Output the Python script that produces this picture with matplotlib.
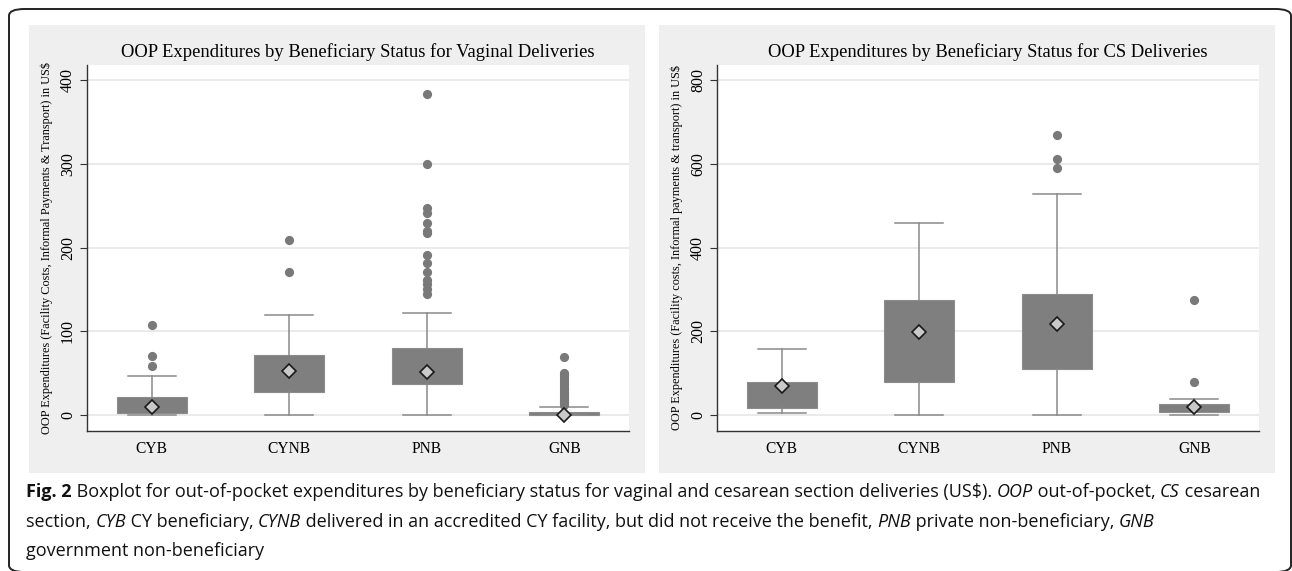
import matplotlib
matplotlib.use("Agg")
import matplotlib.pyplot as plt
from matplotlib import font_manager
from matplotlib.patches import Rectangle, FancyBboxPatch

# categories and box statistics (US$)
groups = ['CYB', 'CYNB', 'PNB', 'GNB']

vag_q1 = [2, 27, 37, 0]
vag_q3 = [21, 72, 80, 4]
vag_lo = [0, 0, 0, 0]
vag_hi = [47, 120, 122, 10]
vag_mean = [10, 53, 52, 0.5]
vag_out = [
    [59, 70, 108],
    [171, 209],
    [145, 151, 156, 161, 171, 181, 191, 217, 220, 229, 241, 247, 300, 383],
    [12, 14, 16, 18, 20, 22, 25, 28, 31, 34, 37, 40, 43, 46, 48, 50, 69],
]

cs_q1 = [18, 80, 110, 7]
cs_q3 = [80, 275, 289, 27]
cs_lo = [4, 0, 0, 0]
cs_hi = [159, 458, 528, 39]
cs_mean = [69, 199, 218, 20]
cs_out = [
    [],
    [],
    [591, 611, 669],
    [79, 276],
]

W, H = 1292, 571
fig = plt.figure(figsize=(W / 100, H / 100), dpi=100)
fig.patch.set_facecolor('white')

serif = 'Liberation Serif'
have = {f.name for f in font_manager.fontManager.ttflist}
cap_font = 'Liberation Sans'
for nm in ['Liberation Sans Narrow', 'Open Sans', 'Liberation Sans']:
    if nm in have:
        cap_font = nm
        break


def fx(px):
    return px / W


def fy(py):
    return 1 - py / H


# outer rounded frame
fig.patches.append(FancyBboxPatch((fx(9), fy(572)), fx(1282), (563) / H,
                                  boxstyle='round,pad=0,rounding_size=0.012',
                                  transform=fig.transFigure, facecolor='none',
                                  edgecolor='#222222', linewidth=1.4))

# gray panels (behind the axes)
for x0, x1 in [(29, 645), (659, 1275)]:
    fig.patches.append(Rectangle((fx(x0), fy(473)), fx(x1 - x0), (473 - 25) / H,
                                 transform=fig.transFigure, facecolor='#efefef',
                                 edgecolor='none', zorder=-1))

panels = [
    dict(left=87, right=629, q1=vag_q1, q3=vag_q3, lo=vag_lo, hi=vag_hi,
         mean=vag_mean, out=vag_out, ylim=(-19, 418), ticks=[0, 100, 200, 300, 400],
         title='OOP Expenditures by Beneficiary Status for Vaginal Deliveries',
         ylabel='OOP Expenditures (Facility Costs, Informal Payments & Transport) in US$'),
    dict(left=717, right=1259, q1=cs_q1, q3=cs_q3, lo=cs_lo, hi=cs_hi,
         mean=cs_mean, out=cs_out, ylim=(-38, 836), ticks=[0, 200, 400, 600, 800],
         title='OOP Expenditures by Beneficiary Status for CS Deliveries',
         ylabel='OOP Expenditures (Facility costs, Informal payments & transport) in US$'),
]

box_col = '#7f7f80'
line_col = '#8a8a8a'

for p in panels:
    ax = fig.add_axes([fx(p['left']), fy(431), fx(p['right'] - p['left']), (431 - 65) / H])
    ax.set_facecolor('white')
    stats = []
    for i, g in enumerate(groups):
        stats.append(dict(label=g, q1=p['q1'][i], q3=p['q3'][i], med=p['mean'][i],
                          whislo=p['lo'][i], whishi=p['hi'][i], mean=p['mean'][i],
                          fliers=p['out'][i]))
    ax.bxp(stats, positions=[1, 2, 3, 4], widths=0.51, patch_artist=True,
           showmeans=True, capwidths=0.35,
           boxprops=dict(facecolor=box_col, edgecolor='#8c8c8c', linewidth=0.8),
           whiskerprops=dict(color=line_col, linewidth=1.1),
           capprops=dict(color=line_col, linewidth=1.1),
           medianprops=dict(linewidth=0),
           flierprops=dict(marker='o', markersize=5.6, markerfacecolor='#797979',
                           markeredgecolor='#797979'),
           meanprops=dict(marker='D', markersize=7, markerfacecolor='#c9c9c9',
                          markeredgecolor='#1a1a1a', markeredgewidth=1.2))
    ax.set_xlim(0.53, 4.47)
    ax.set_ylim(*p['ylim'])
    ax.set_yticks(p['ticks'])
    ax.set_yticklabels([str(t) for t in p['ticks']], rotation=90, va='center',
                       fontfamily=serif, fontsize=11.5)
    ax.set_xticks([1, 2, 3, 4])
    ax.set_xticklabels(groups, fontfamily=serif, fontsize=11.2)
    ax.tick_params(axis='x', length=0, pad=7)
    ax.tick_params(axis='y', length=5, width=0.8, color='#333333', pad=3)
    ax.grid(axis='y', color='#e6e6e6', linewidth=1.2)
    ax.set_axisbelow(True)
    for s in ['top', 'right']:
        ax.spines[s].set_visible(False)
    for s in ['left', 'bottom']:
        ax.spines[s].set_color('#333333')
        ax.spines[s].set_linewidth(1.0)
    ax.set_ylabel(p['ylabel'], fontfamily=serif, fontsize=8.85)
    ax.yaxis.set_label_coords(-0.063, 0.5)
    fig.text(fx((p['left'] + p['right']) / 2), fy(52), p['title'], ha='center',
             va='center', fontfamily=serif, fontsize=13.4)

# caption with mixed styles
caption = [
    [('Fig. 2', 'bold'), (' Boxplot for out-of-pocket expenditures by beneficiary status for vaginal and cesarean section deliveries (US$). ', 'normal'),
     ('OOP', 'italic'), (' out-of-pocket, ', 'normal'), ('CS', 'italic'), (' cesarean', 'normal')],
    [('section, ', 'normal'), ('CYB', 'italic'), (' CY beneficiary, ', 'normal'), ('CYNB', 'italic'),
     (' delivered in an accredited CY facility, but did not receive the benefit, ', 'normal'),
     ('PNB', 'italic'), (' private non-beneficiary, ', 'normal'), ('GNB', 'italic')],
    [('government non-beneficiary', 'normal')],
]
baselines = [497, 527, 556]
renderer = fig.canvas.get_renderer()
for line, yb in zip(caption, baselines):
    x = fx(26)
    for txt, sty in line:
        kw = dict(fontfamily=cap_font, fontsize=12.95, va='baseline', ha='left', color='#111111')
        if sty == 'bold':
            kw['fontweight'] = 'bold'
        elif sty == 'italic':
            kw['fontstyle'] = 'italic'
        t = fig.text(x, fy(yb), txt, **kw)
        x += t.get_window_extent(renderer).width / W

fig.savefig('out.png', dpi=100)
